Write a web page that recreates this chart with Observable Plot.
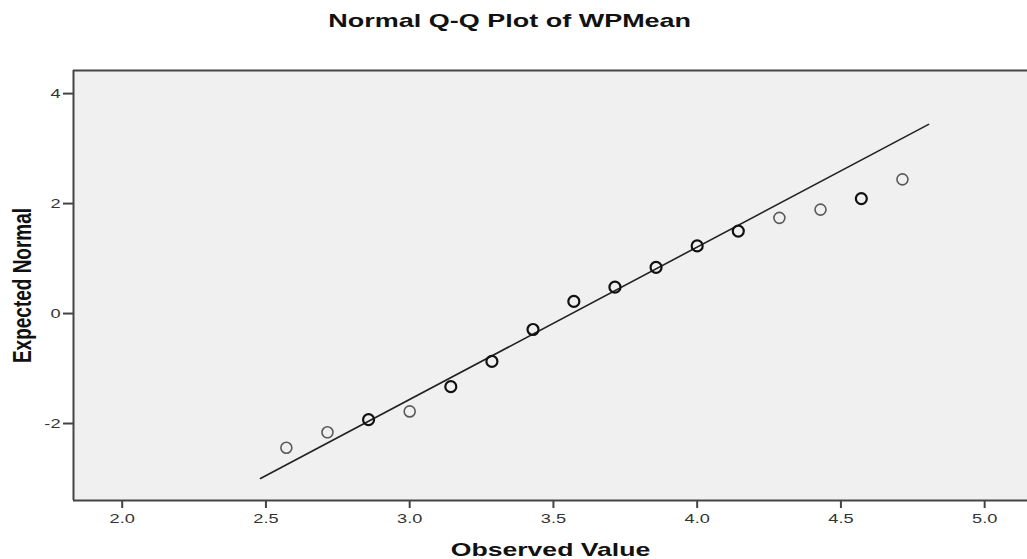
<!DOCTYPE html>
<html>
<head>
<meta charset="utf-8">
<script src="https://cdn.jsdelivr.net/npm/d3@7"></script>
<script src="https://cdn.jsdelivr.net/npm/@observablehq/plot@0.6"></script>
<style>
  html, body { margin: 0; padding: 0; background: #fff; }
  body { position: relative; width: 1027px; height: 559px; overflow: hidden; font-family: "Liberation Sans", Arial, sans-serif; }
  #title { position: absolute; top: 11px; left: 0; width: 1020px; text-align: center; line-height: 19px; font-size: 19px; font-weight: bold; color: #111; }
  #title span { display: inline-block; transform: scaleX(1.42); transform-origin: center; }
  #chart { position: absolute; top: 40px; left: 0; }
  #chart svg [aria-label="x-axis tick"], #chart svg [aria-label="y-axis tick"] { stroke-width: 2px; }
</style>
</head>
<body>
<div id="title"><span>Normal Q-Q Plot of WPMean</span></div>
<div id="chart"></div>
<script>
// Observed values (WPMean) and expected normal quantiles
const observed = [2.571, 2.714, 2.857, 3.000, 3.143, 3.286, 3.429, 3.571, 3.714, 3.857, 4.000, 4.143, 4.286, 4.429, 4.571, 4.714];
const expected = [-2.44, -2.16, -1.93, -1.78, -1.33, -0.87, -0.29, 0.22, 0.48, 0.84, 1.23, 1.50, 1.74, 1.89, 2.09, 2.44];
// number of overlapping cases per marker (tied values drawn on top of each other)
const cases = [1, 1, 2, 1, 2, 2, 2, 2, 2, 2, 2, 2, 1, 1, 2, 1];
// reference line end points
const lineX = [2.481, 4.805];
const lineY = [-3.00, 3.44];
// axes
const xTicks = [2.0, 2.5, 3.0, 3.5, 4.0, 4.5, 5.0];
const yTicks = [-2, 0, 2, 4];
const xDomain = [1.8306, 5.149];
const yDomain = [-3.40, 4.42];
const xLabel = "Observed Value";
const yLabel = "Expected Normal";

const points = observed.map((x, i) => ({x, y: expected[i], n: cases[i]}));
const lineData = lineX.map((x, i) => ({x, y: lineY[i]}));

const chart = Plot.plot({
  width: 1027,
  height: 519,
  marginLeft: 73,
  marginRight: 0,
  marginTop: 30,
  marginBottom: 59,
  style: {fontFamily: "'Liberation Sans', Arial, sans-serif", fontSize: "13px", color: "#444", background: "transparent", overflow: "visible"},
  x: {domain: xDomain, ticks: xTicks, tickFormat: () => "", tickSize: 8, tickPadding: 5, label: null},
  y: {domain: yDomain, ticks: yTicks, tickFormat: () => "", tickSize: 10, tickPadding: 2, label: null},
  marks: [
    Plot.frame({fill: "#f0f0f0", stroke: "none"}),
    Plot.ruleX([xDomain[0]], {stroke: "#444", strokeWidth: 2}),
    Plot.ruleY([yDomain[1]], {stroke: "#444", strokeWidth: 2}),
    Plot.ruleY([yDomain[0]], {stroke: "#444", strokeWidth: 2}),
    Plot.line(lineData, {x: "x", y: "y", stroke: "#222", strokeWidth: 1.6}),
    Plot.dot(points.filter(d => d.n === 1), {x: "x", y: "y", r: 5.5, stroke: "#5a5a5a", strokeWidth: 1.6, fill: "none"}),
    Plot.dot(points.filter(d => d.n > 1), {x: "x", y: "y", r: 5.5, stroke: "#111", strokeWidth: 2.2, fill: "none"}),
    // tick labels
    Plot.text(xTicks, {x: d => d, frameAnchor: "bottom", dy: 13, lineAnchor: "top", textAnchor: "middle", text: d => d.toFixed(1), fontSize: 13, fill: "#333"}),
    Plot.text(yTicks, {y: d => d, frameAnchor: "left", dx: -13, lineAnchor: "middle", textAnchor: "end", text: d => String(d), fontSize: 13, fill: "#333"}),
    // axis titles
    Plot.text([xLabel], {frameAnchor: "bottom", dy: 49, lineAnchor: "middle", textAnchor: "middle", text: d => d, fontSize: 19, fontWeight: "bold", fill: "#111"}),
    Plot.text([yLabel], {frameAnchor: "left", dx: -51, rotate: -90, lineAnchor: "middle", textAnchor: "middle", text: d => d, fontSize: 19, fontWeight: "bold", fill: "#111"})
  ]
});

// Stretch the texts horizontally (the reference rendering is horizontally stretched)
const SX = 1.4;
chart.querySelectorAll("text").forEach(t => {
  if (!t.textContent.trim()) return;
  let tr = t.getAttribute("transform") || "";
  if (/rotate/.test(tr)) {
    tr = tr.replace(/rotate/, `scale(${SX},1) rotate`);
  } else if (/translate/.test(tr)) {
    tr = `${tr} scale(${SX},1)`;
  } else {
    const x = +(t.getAttribute("x") || 0);
    const y = +(t.getAttribute("y") || 0);
    tr = `${tr} translate(${x},${y}) scale(${SX},1) translate(${-x},${-y})`;
  }
  t.setAttribute("transform", tr.trim());
});

document.getElementById("chart").appendChild(chart);
</script>
</body>
</html>
